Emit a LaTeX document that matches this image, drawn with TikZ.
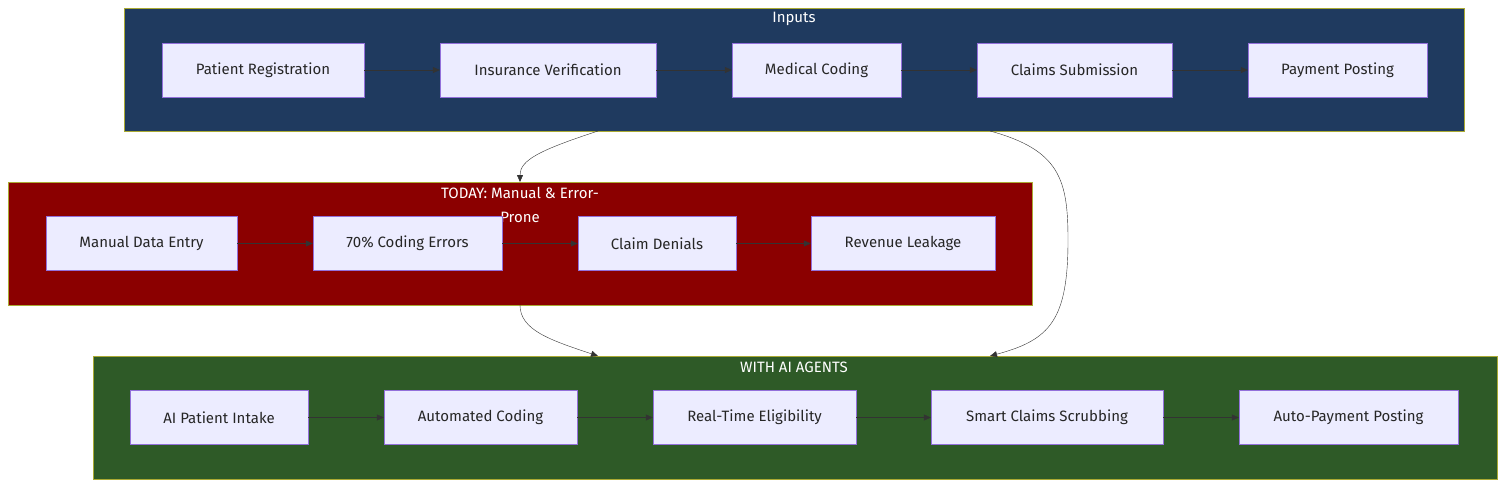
\documentclass[tikz,border=0pt]{standalone}
\usepackage{fontspec}
\setmainfont{Fira Sans}
\usetikzlibrary{positioning, arrows.meta}
\definecolor{stepfill}{HTML}{ECECFF}
\definecolor{stepline}{HTML}{9370DB}
\definecolor{inbg}{HTML}{1F3A5F}
\definecolor{todaybg}{HTML}{8B0000}
\definecolor{aibg}{HTML}{2E5A27}
\definecolor{frameline}{HTML}{AAAA33}
\definecolor{linkcol}{HTML}{333333}
\tikzset{
  stage/.style={draw=stepline, fill=stepfill, minimum height=54pt, inner sep=0pt,
    font=\fontsize{15}{18}\selectfont, text=black!85},
  title/.style={font=\fontsize{15}{24}\selectfont, text=white, align=center},
  link/.style={draw=linkcol, -{Triangle[length=7pt,width=6pt]}}
}
\begin{document}
\begin{tikzpicture}[x=1pt,y=-1pt]
\useasboundingbox (0,0) rectangle (1504,488);
% frames
\fill[inbg, draw=frameline] (124,8) rectangle (1464,131);
\fill[todaybg, draw=frameline] (8,182) rectangle (1032,305);
\fill[aibg, draw=frameline] (93,356) rectangle (1497,479);
\node[title] at (794,19) {Inputs};
\node[title] at (520,205) {TODAY: Manual \& Error-\\Prone};
\node[title] at (794,367) {WITH AI AGENTS};

% inputs row
\foreach \name/\x/\w/\descr in {pr/263/202/Patient Registration, iv/548/216/Insurance Verification,
  mc/816.5/169/Medical Coding, cs/1074.5/195/Claims Submission, pp/1337.5/179/Payment Posting}
  \node[stage, minimum width=\w pt] (\name) at (\x,70) {\descr};
\foreach \a/\b in {pr/iv, iv/mc, mc/cs, cs/pp}
  \draw[link] (\a) -- (\b);

% today row
\foreach \name/\x/\w/\descr in {md/141.5/191/Manual Data Entry, ce/407.5/189/70\% Coding Errors,
  cd/657/158/Claim Denials, rl/903/184/Revenue Leakage}
  \node[stage, minimum width=\w pt] (\name) at (\x,243.5) {\descr};
\foreach \a/\b in {md/ce, ce/cd, cd/rl}
  \draw[link] (\a) -- (\b);

% ai row
\foreach \name/\x/\w/\descr in {ai/219/178/AI Patient Intake, ac/480.5/193/Automated Coding,
  re/754.5/203/Real-Time Eligibility, sc/1047/232/Smart Claims Scrubbing, ap/1348.5/219/Auto-Payment Posting}
  \node[stage, minimum width=\w pt] (\name) at (\x,417.5) {\descr};
\foreach \a/\b in {ai/ac, ac/re, re/sc, sc/ap}
  \draw[link] (\a) -- (\b);

% links between frames
\coordinate (inA) at (598,131);
\coordinate (inB) at (990,131);
\coordinate (todayTop) at (520,182);
\coordinate (todayBot) at (520,305);
\coordinate (aiA) at (598,356);
\coordinate (aiB) at (990,356);
\draw[link] (inA) .. controls (540,150) and (520,160) .. (todayTop);
\draw[link] (inB) .. controls (1060,150) and (1068,180) .. (1068,240)
  .. controls (1068,320) and (1050,340) .. (aiB);
\draw[link] (todayBot) .. controls (520,330) and (550,340) .. (aiA);
\end{tikzpicture}
\end{document}
